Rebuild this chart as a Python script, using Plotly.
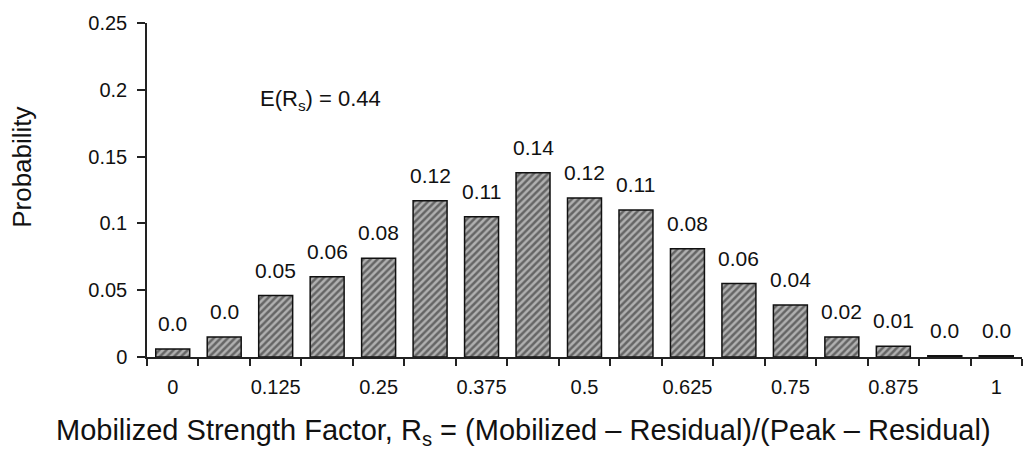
import plotly.graph_objects as go

categories = ["0", "0.0625", "0.125", "0.1875", "0.25", "0.3125", "0.375", "0.4375",
              "0.5", "0.5625", "0.625", "0.6875", "0.75", "0.8125", "0.875", "0.9375", "1"]
probabilities = [0.006, 0.015, 0.046, 0.060, 0.074, 0.117, 0.105, 0.138,
                 0.119, 0.110, 0.081, 0.055, 0.039, 0.015, 0.008, 0.001, 0.001]
bar_labels = ["0.0", "0.0", "0.05", "0.06", "0.08", "0.12", "0.11", "0.14",
              "0.12", "0.11", "0.08", "0.06", "0.04", "0.02", "0.01", "0.0", "0.0"]
tick_labels = ["0", "", "0.125", "", "0.25", "", "0.375", "", "0.5", "", "0.625", "",
               "0.75", "", "0.875", "", "1"]
y_ticks = [0, 0.05, 0.1, 0.15, 0.2, 0.25]
y_tick_labels = ["0", "0.05", "0.1", "0.15", "0.2", "0.25"]
expected_value = 0.44

FONT = "Liberation Sans, Arial, sans-serif"

fig = go.Figure()
fig.add_trace(go.Bar(
    x=categories,
    y=probabilities,
    marker=dict(
        color="#a0a0a0",
        line=dict(color="#111111", width=1.5),
        pattern=dict(shape="/", fgcolor="#1a1a1a", bgcolor="#b0b0b0", size=5, solidity=0.5),
    ),
    showlegend=False,
))

for i, (v, lab) in enumerate(zip(probabilities, bar_labels)):
    fig.add_annotation(x=i, y=v, text=lab, showarrow=False, xanchor="center",
                       yanchor="bottom", yshift=12,
                       font=dict(family=FONT, size=21, color="#111111"))

fig.add_annotation(xref="paper", yref="y", x=0.127, y=0.192,
                   text="E(R<sub>s</sub>) = %.2f" % expected_value,
                   showarrow=False, xanchor="left", yanchor="middle",
                   font=dict(family=FONT, size=22, color="#111111"))

fig.add_annotation(xref="paper", yref="paper", x=0.43, y=-0.225,
                   text="Mobilized Strength Factor, R<sub>s</sub> = (Mobilized – Residual)/(Peak – Residual)",
                   showarrow=False, xanchor="center", yanchor="middle",
                   font=dict(family=FONT, size=29, color="#111111"))

fig.add_annotation(xref="paper", yref="paper", x=-0.143, y=0.569,
                   text="Probability", textangle=-90,
                   showarrow=False, xanchor="center", yanchor="middle",
                   font=dict(family=FONT, size=26, color="#111111"))

fig.update_layout(
    width=1027, height=462,
    margin=dict(l=147, r=5, t=23, b=105),
    paper_bgcolor="white", plot_bgcolor="white",
    bargap=0.34,
    font=dict(family=FONT, size=19, color="#111111"),
)
fig.update_xaxes(
    type="category",
    tickmode="array", tickvals=categories, ticktext=tick_labels,
    tickson="boundaries", tickangle=0,
    ticks="outside", ticklen=7, tickwidth=1.5, tickcolor="#222222",
    showline=True, linecolor="#222222", linewidth=1.5,
    showgrid=False, zeroline=False,
    ticklabelstandoff=11,
    tickfont=dict(family=FONT, size=20, color="#111111"),
    range=[-0.5, 16.5],
)
fig.update_yaxes(
    range=[0, 0.25],
    tickmode="array", tickvals=y_ticks, ticktext=y_tick_labels,
    ticks="outside", ticklen=8, tickwidth=1.5, tickcolor="#222222",
    showline=True, linecolor="#222222", linewidth=1.5,
    showgrid=False, zeroline=False,
    ticklabelstandoff=6,
    tickfont=dict(family=FONT, size=20, color="#111111"),
)

fig.write_html("out.html")
